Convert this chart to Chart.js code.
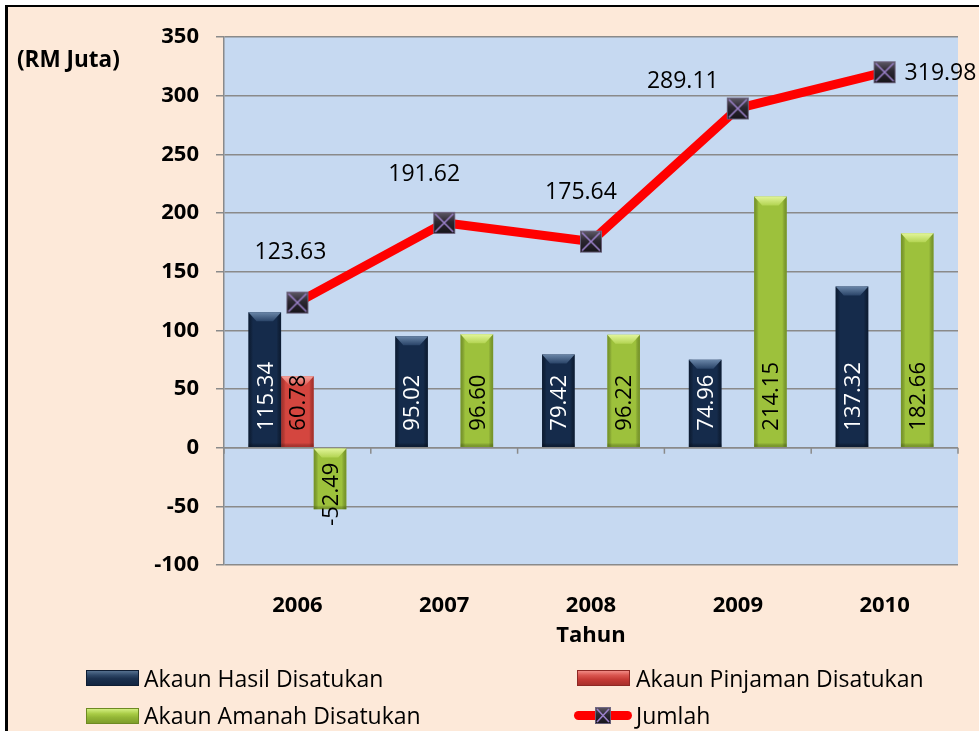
<!DOCTYPE html>
<html><head><meta charset="utf-8">
<script src="https://cdn.jsdelivr.net/npm/chart.js@4.4.1/dist/chart.umd.min.js"></script>
<style>
html,body{margin:0;padding:0;background:#fff;}
body{width:979px;height:731px;overflow:hidden;position:relative;font-family:"Open Sans",sans-serif;}
#frame{position:absolute;left:5px;top:5px;width:974px;height:726px;background:#FDE9D9;border-left:3px solid #000;border-top:2px solid #000;box-sizing:border-box;}
#c{position:absolute;left:0;top:0;}
#unit{position:absolute;left:17px;top:44px;line-height:30px;font-weight:bold;font-size:22.5px;color:#000;}
.lt{position:absolute;font-size:23px;line-height:30px;color:#000;white-space:nowrap;}
.sw{position:absolute;width:53px;height:16px;box-sizing:border-box;}
#sw1{left:86px;top:670px;background:linear-gradient(#55708F,#2E4767 30%,#1B304E 55%,#132641);border:1px solid #0E1D33;}
#sw2{left:577px;top:670px;background:linear-gradient(#F08A84,#DA5650 30%,#C53A35 60%,#A8302C);border:1px solid #8E2824;}
#sw3{left:86px;top:708px;background:linear-gradient(#D2EE80,#A8CB45 35%,#93B636 60%,#7E9E2A);border:1px solid #6D8A22;}
#ln4{position:absolute;left:574px;top:711px;width:58px;height:9px;border-radius:5px;background:#FF0000;}
#mk4{position:absolute;left:594px;top:706px;}
</style></head>
<body>
<div id="frame"></div>
<canvas id="c" width="979" height="731"></canvas>
<div id="unit">(RM Juta)</div>
<div class="sw" id="sw1"></div><div class="lt" style="left:144px;top:663px">Akaun Hasil Disatukan</div>
<div class="sw" id="sw2"></div><div class="lt" style="left:636px;top:663px">Akaun Pinjaman Disatukan</div>
<div class="sw" id="sw3"></div><div class="lt" style="left:144px;top:700px">Akaun Amanah Disatukan</div>
<div id="ln4"></div><canvas id="mk4" width="18" height="19"></canvas><div class="lt" style="left:636px;top:700px">Jumlah</div>
<script>
// ---- data ----
const years = ['2006', '2007', '2008', '2009', '2010'];
const hasil = [115.34, 95.02, 79.42, 74.96, 137.32];
const pinjaman = [60.78, null, null, null, null];
const amanah = [-52.49, 96.60, 96.22, 214.15, 182.66];
const jumlah = [123.63, 191.62, 175.64, 289.11, 319.98];
const yMin = -100, yMax = 350, yStep = 50;

// ---- styling ----
const FONT = '"Open Sans", sans-serif';
const lineLabelOffsets = [[-7, -50, 'center'], [-20, -48, 'center'], [-10, -49, 'center'], [-55, -27, 'center'], [20, 1, 'left']];

function drawMarker(g, w, h) {
  const grad = g.createLinearGradient(0, 0, 0, h);
  grad.addColorStop(0, '#66606e'); grad.addColorStop(0.45, '#2c2832'); grad.addColorStop(1, '#141217');
  g.fillStyle = grad; g.fillRect(1, 1, w - 2, h - 2);
  g.strokeStyle = 'rgba(120,110,140,0.8)'; g.lineWidth = 1; g.strokeRect(1.5, 1.5, w - 3, h - 3);
  g.strokeStyle = '#9A80C8'; g.lineWidth = 1.6;
  g.beginPath(); g.moveTo(3, 3); g.lineTo(w - 3, h - 3); g.moveTo(w - 3, 3); g.lineTo(3, h - 3); g.stroke();
}
const marker = document.createElement('canvas'); marker.width = 24; marker.height = 24;
drawMarker(marker.getContext('2d'), 24, 24);
drawMarker(document.getElementById('mk4').getContext('2d'), 18, 19);

const bgPlugin = {
  id: 'bg',
  beforeDraw(chart) {
    const {ctx, chartArea: a} = chart;
    ctx.save(); ctx.fillStyle = '#C6D9F1'; ctx.fillRect(a.left, a.top, a.right - a.left, a.bottom - a.top); ctx.restore();
  }
};
const zeroPlugin = {
  id: 'zero',
  beforeDatasetsDraw(chart) {
    const {ctx, chartArea: a, scales: {x, y}} = chart;
    const y0 = y.getPixelForValue(0);
    ctx.save(); ctx.strokeStyle = '#8A8A8A'; ctx.lineWidth = 1.5;
    ctx.beginPath(); ctx.moveTo(a.left, y0); ctx.lineTo(a.right, y0);
    const n = x.ticks.length;
    for (let i = 0; i <= n; i++) {
      let px;
      if (i === 0) px = a.left; else if (i === n) px = a.right;
      else px = (x.getPixelForValue(i - 1) + x.getPixelForValue(i)) / 2;
      ctx.moveTo(px, y0); ctx.lineTo(px, y0 + 6);
    }
    ctx.stroke(); ctx.restore();
  }
};
const bevelPlugin = {
  id: 'bevel',
  afterDatasetDraw(chart, args) {
    const ds = chart.data.datasets[args.index];
    if (!ds.bevel) return;
    const ctx = chart.ctx, c = ds.bevel;
    args.meta.data.forEach((el, i) => {
      if (ds.data[i] == null) return;
      const {x, y, base, width} = el.getProps(['x', 'y', 'base', 'width'], true);
      const l = x - width / 2, r = x + width / 2, t = Math.min(y, base), b = Math.max(y, base);
      const h = b - t, bv = Math.min(9, h / 2);
      ctx.save();
      const gs = ctx.createLinearGradient(l, 0, r, 0);
      gs.addColorStop(0, c.edge); gs.addColorStop(0.14, 'rgba(0,0,0,0)'); gs.addColorStop(0.86, 'rgba(0,0,0,0)'); gs.addColorStop(1, c.edge);
      ctx.fillStyle = gs; ctx.fillRect(l, t, width, h);
      const gt = ctx.createLinearGradient(0, t, 0, t + bv);
      gt.addColorStop(0, c.top1); gt.addColorStop(1, c.top2);
      ctx.fillStyle = gt;
      ctx.beginPath(); ctx.moveTo(l, t); ctx.lineTo(r, t); ctx.lineTo(r - bv * 0.9, t + bv); ctx.lineTo(l + bv * 0.9, t + bv); ctx.closePath(); ctx.fill();
      const gb = ctx.createLinearGradient(0, b - 4, 0, b);
      gb.addColorStop(0, 'rgba(0,0,0,0)'); gb.addColorStop(1, c.edge);
      ctx.fillStyle = gb; ctx.fillRect(l, b - 4, width, 4);
      ctx.restore();
    });
  }
};
const barLabelPlugin = {
  id: 'barLabels',
  afterDatasetsDraw(chart) {
    const ctx = chart.ctx, y0 = chart.scales.y.getPixelForValue(0);
    chart.data.datasets.forEach((ds, di) => {
      if (!ds.bevel) return;
      const meta = chart.getDatasetMeta(di);
      meta.data.forEach((el, i) => {
        const v = ds.data[i];
        if (v == null) return;
        ctx.save();
        ctx.font = '22px ' + FONT;
        ctx.fillStyle = ds.labelColor;
        ctx.textBaseline = 'middle';
        if (v >= 0) { ctx.translate(el.x + 1.5, y0 - 17); ctx.textAlign = 'left'; }
        else { ctx.translate(el.x + 1.5, y0 + 15); ctx.textAlign = 'right'; }
        ctx.rotate(-Math.PI / 2);
        ctx.fillText(v.toFixed(2), 0, 0);
        ctx.restore();
      });
    });
  }
};
const lineLabelPlugin = {
  id: 'lineLabels',
  afterDatasetsDraw(chart) {
    const ctx = chart.ctx;
    chart.data.datasets.forEach((ds, di) => {
      if (ds.type !== 'line') return;
      chart.getDatasetMeta(di).data.forEach((pt, i) => {
        const o = lineLabelOffsets[i];
        ctx.save();
        ctx.font = '23px ' + FONT; ctx.fillStyle = '#000';
        ctx.textAlign = o[2]; ctx.textBaseline = 'middle';
        ctx.fillText(ds.data[i].toFixed(2), pt.x + o[0], pt.y + o[1]);
        ctx.restore();
      });
    });
  }
};

new Chart(document.getElementById('c'), {
  type: 'bar',
  data: {
    labels: years,
    datasets: [
      {label: 'Akaun Hasil Disatukan', data: hasil, backgroundColor: '#152B4B', order: 1, labelColor: '#FFFFFF',
        bevel: {top1: '#6A86A8', top2: '#2A4468', edge: 'rgba(5,15,30,0.55)'}},
      {label: 'Akaun Pinjaman Disatukan', data: pinjaman, backgroundColor: '#D4463F', order: 1, labelColor: '#000000',
        bevel: {top1: '#F4A39D', top2: '#DE5A53', edge: 'rgba(110,20,15,0.45)'}},
      {label: 'Akaun Amanah Disatukan', data: amanah, backgroundColor: '#9DC13C', order: 1, labelColor: '#000000',
        bevel: {top1: '#E2F59A', top2: '#B3D452', edge: 'rgba(70,95,15,0.45)'}},
      {type: 'line', label: 'Jumlah', data: jumlah, borderColor: '#FF0000', backgroundColor: '#FF0000', borderWidth: 9,
        tension: 0, borderJoinStyle: 'round', borderCapStyle: 'round', pointStyle: marker, pointRadius: 12, order: 0, fill: false}
    ]
  },
  options: {
    responsive: false, animation: false, events: [],
    layout: {padding: {left: 0, top: 37, right: 17, bottom: 0}},
    plugins: {legend: {display: false}, tooltip: {enabled: false}, title: {display: false}},
    datasets: {bar: {categoryPercentage: 0.667, barPercentage: 1}},
    scales: {
      x: {
        grid: {display: false, drawTicks: false}, border: {display: false},
        ticks: {padding: 28, color: '#000', font: {family: FONT, size: 22, weight: 'bold'}},
        title: {display: true, text: 'Tahun', color: '#000', font: {family: FONT, size: 22, weight: 'bold'}, padding: {top: 0, bottom: 82}},
        afterFit(s) { s.height = 166; }
      },
      y: {
        min: yMin, max: yMax,
        ticks: {stepSize: yStep, padding: 17, color: '#000', font: {family: FONT, size: 22, weight: 'bold'}},
        grid: {color: '#8A8A8A', lineWidth: 1.5, tickLength: 8, tickColor: '#8A8A8A'},
        border: {color: '#8A8A8A', width: 1.5},
        afterFit(s) { s.width = 224; }
      }
    }
  },
  plugins: [bgPlugin, zeroPlugin, bevelPlugin, barLabelPlugin, lineLabelPlugin]
});
</script>
</body></html>
